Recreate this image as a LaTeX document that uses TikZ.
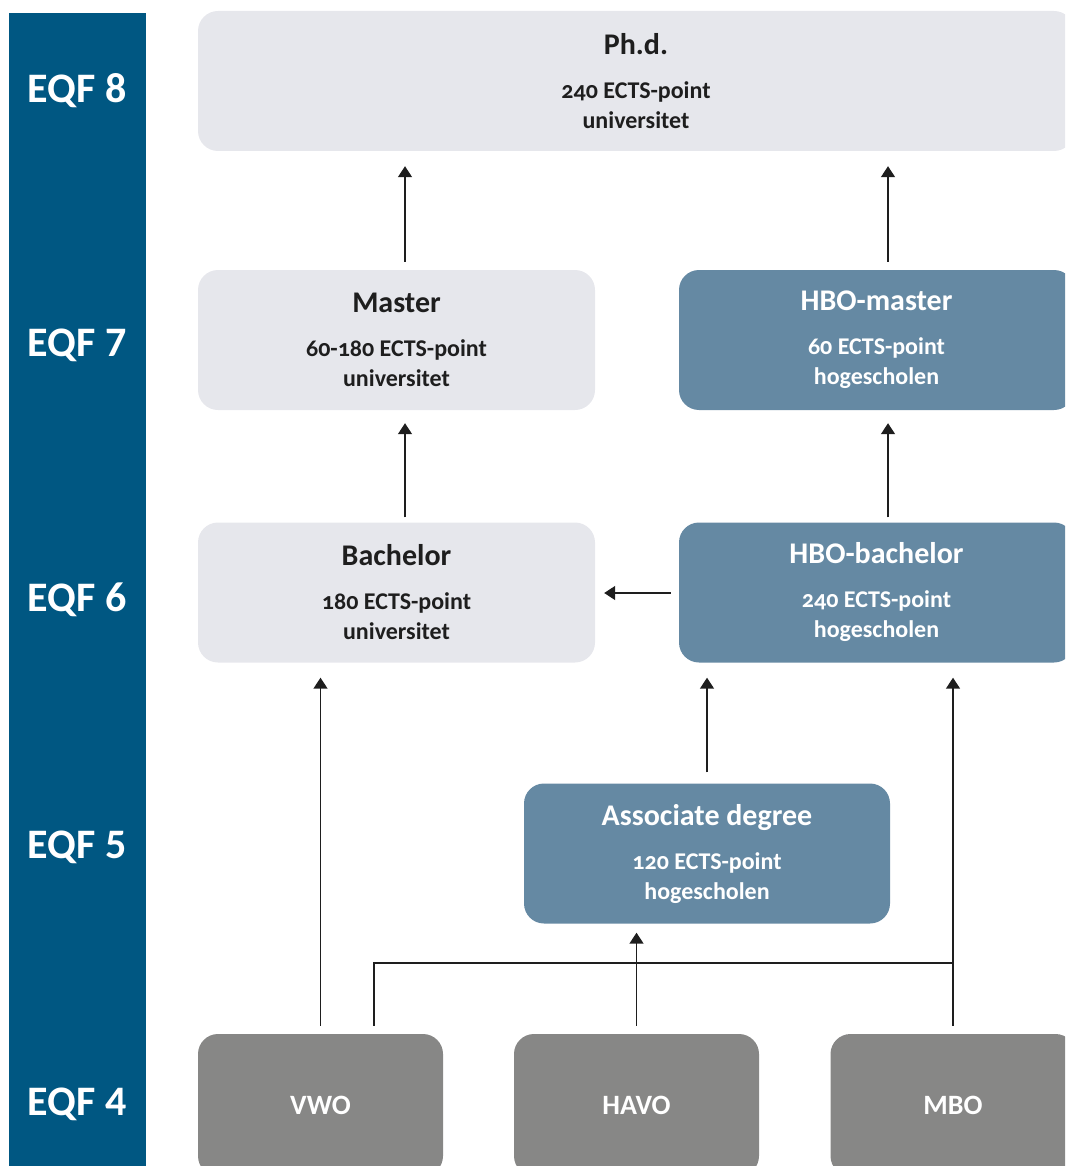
\documentclass[tikz,border=0pt]{standalone}
\usepackage{fontspec}
\setmainfont{Carlito}
\newfontfamily\oldnums[Numbers=OldStyle]{Carlito}
\usetikzlibrary{arrows.meta,positioning}

\definecolor{eqfblue}{RGB}{0,87,130}
\definecolor{unigray}{RGB}{230,231,236}
\definecolor{hboblue}{RGB}{101,137,163}
\definecolor{schoolgray}{RGB}{135,135,134}
\definecolor{ink}{RGB}{30,30,30}

\newcommand{\boxtitle}[1]{{\fontsize{30}{36}\selectfont #1}}

\tikzset{
  level/.style={text=white, anchor=base, font=\bfseries\fontsize{42}{48}\selectfont},
  unibox/.style={fill=unigray, text=ink, rounded corners=20pt, align=center,
    minimum height=140pt, font=\oldnums\bfseries\fontsize{24}{30}\selectfont},
  hbobox/.style={unibox, fill=hboblue, text=white},
  schoolbox/.style={fill=schoolgray, text=white, rounded corners=20pt,
    minimum width=245pt, minimum height=142pt, font=\bfseries\fontsize{28}{32}\selectfont},
  arr/.style={draw=ink, line width=1.5pt, -{Triangle[width=14pt,length=11pt]}},
  link/.style={draw=ink, line width=1.5pt}
}

\begin{document}
\begin{tikzpicture}[x=1pt,y=-1pt]

% Page frame
\path[use as bounding box,clip] (0,0) rectangle (1065,1166);

% EQF column on the left
\fill[eqfblue] (9,13) rectangle (146,1180);
\foreach \lv/\y in {8/103,7/356,6/611,5/858,4/1115}
  \node[level] (eqf\lv) at (77,\y) {EQF \lv};

% EQF 8
\node[unibox, minimum width=876pt] (phd) at (636,81)
  {\boxtitle{Ph.d.}\\[14pt]240 ECTS-point\\universitet};

% EQF 7
\node[unibox, minimum width=397pt] (master) at (396.5,340)
  {\boxtitle{Master}\\[14pt]60-180 ECTS-point\\universitet};
\node[hbobox, minimum width=395pt] (hbomaster) at (876.5,340)
  {\boxtitle{HBO-master}\\[14pt]60 ECTS-point\\hogescholen};

% EQF 6
\node[unibox, minimum width=397pt] (bachelor) at (396.5,592.5)
  {\boxtitle{Bachelor}\\[14pt]180 ECTS-point\\universitet};
\node[hbobox, minimum width=395pt] (hbobachelor) at (876.5,592.5)
  {\boxtitle{HBO-bachelor}\\[14pt]240 ECTS-point\\hogescholen};

% EQF 5
\node[hbobox, minimum width=366pt] (assoc) at (707,853.5)
  {\boxtitle{Associate degree}\\[14pt]120 ECTS-point\\hogescholen};

% EQF 4
\node[schoolbox] (vwo) at (320.5,1105) {VWO};
\node[schoolbox] (havo) at (636.5,1105) {HAVO};
\node[schoolbox] (mbo) at (953,1105) {MBO};

% Arrows upwards
\draw[arr, shorten <=8pt, shorten >=15pt] ([xshift=8.5pt]master.north) -- ([xshift=8.5pt]master.north |- phd.south);
\draw[arr, shorten <=8pt, shorten >=15pt] ([xshift=11.5pt]hbomaster.north) -- ([xshift=11.5pt]hbomaster.north |- phd.south);
\draw[arr, shorten <=5pt, shorten >=13pt] ([xshift=8.5pt]bachelor.north) -- ([xshift=8.5pt]bachelor.north |- master.south);
\draw[arr, shorten <=5pt, shorten >=13pt] ([xshift=11.5pt]hbobachelor.north) -- ([xshift=11.5pt]hbobachelor.north |- hbomaster.south);
\draw[arr, shorten <=8pt, shorten >=9pt] ([yshift=-0.5pt]hbobachelor.west) -- ([yshift=-0.5pt]bachelor.east);
\draw[arr, shorten <=11pt, shorten >=15pt] (assoc.north) -- (assoc.north |- hbobachelor.south);

% From EQF 4
\coordinate (split) at ([yshift=71pt]mbo.north);
\draw[arr, shorten <=8pt, shorten >=15pt] (vwo.north) -- (vwo.north |- bachelor.south);
\draw[arr, shorten <=8pt, shorten >=9pt] (havo.north) -- (havo.north |- assoc.south);
\draw[arr, shorten <=8pt, shorten >=15pt] (mbo.north) -- (mbo.north |- hbobachelor.south);
\draw[link, shorten <=8pt] ([xshift=53.5pt]vwo.north) |- (split);

\end{tikzpicture}
\end{document}
